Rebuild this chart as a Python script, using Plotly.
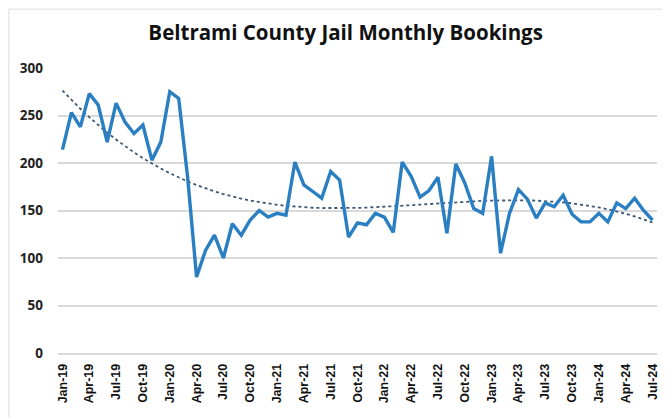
import numpy as np
import plotly.graph_objects as go

months = ["Jan", "Feb", "Mar", "Apr", "May", "Jun", "Jul", "Aug", "Sep", "Oct", "Nov", "Dec"]
years = ["19", "20", "21", "22", "23", "24"]
categories = [f"{m}-{y}" for y in years for m in months][:67]

bookings = [
    214, 253, 238, 273, 261, 222, 263, 243, 231, 240, 203, 222,   # 2019
    275, 268, 185, 80, 108, 124, 100, 136, 124, 140, 150, 143,    # 2020
    147, 145, 201, 177, 170, 163, 191, 182, 122, 137, 135, 147,   # 2021
    143, 127, 201, 186, 164, 171, 185, 126, 199, 179, 152, 147,   # 2022
    207, 105, 147, 172, 162, 142, 158, 154, 166, 146, 138, 138,   # 2023
    147, 138, 158, 152, 163, 150, 140,                            # 2024
]

tick_labels = [c for i, c in enumerate(categories) if i % 3 == 0]

# Polynomial trendline (as in the spreadsheet), fitted on the data
idx = np.arange(len(bookings))
coef = np.polyfit(idx, bookings, 3)
trend = np.polyval(coef, idx)

W, H = 662, 409
L, R, T, B = 50, 10, 60, 64
pw, ph = W - L - R, H - T - B

fig = go.Figure()
fig.add_trace(go.Scatter(
    x=categories, y=trend, mode="lines",
    line=dict(color="#3b5573", width=1.8, dash="dot"),
    hoverinfo="skip", showlegend=False,
))
fig.add_trace(go.Scatter(
    x=categories, y=bookings, mode="lines",
    line=dict(color="#2a7fc2", width=3.4),
    showlegend=False,
))

fig.update_layout(
    width=W, height=H,
    margin=dict(l=L, r=R, t=T, b=B),
    paper_bgcolor="white", plot_bgcolor="white",
    title=dict(
        text="<b>Beltrami County Jail Monthly Bookings</b>",
        x=0.51, xanchor="center", y=0.94, yanchor="middle",
        font=dict(family="Open Sans, DejaVu Sans, sans-serif", size=20.5, color="#111111"),
    ),
    xaxis=dict(
        type="category", categoryorder="array", categoryarray=categories,
        range=[-0.5, len(categories) - 0.5],
        tickmode="array", tickvals=tick_labels, ticktext=tick_labels,
        tickangle=-90, showgrid=False, ticks="",
        showline=True, linecolor="#d9d9d9", linewidth=1.5,
        tickfont=dict(family="Liberation Sans, Arial, sans-serif", size=12.5, color="#111111", weight="bold"),
        ticklabelstandoff=4,
    ),
    yaxis=dict(
        range=[0, 300], tickvals=[0, 50, 100, 150, 200, 250, 300],
        showgrid=True, gridcolor="#d9d9d9", gridwidth=1.5,
        zeroline=False, ticks="", showline=False,
        tickfont=dict(family="Open Sans, DejaVu Sans, sans-serif", size=13.5, color="#222222", weight="bold"),
        ticklabelstandoff=14,
    ),
    shapes=[dict(type="rect", xref="paper", yref="paper",
                 x0=-L / pw + 0.001, x1=1 + (R - 4) / pw,
                 y0=-B / ph - 0.05, y1=1 + T / ph - 0.004,
                 line=dict(color="#dddddd", width=1), layer="below")],
)

fig.write_html("out.html")
